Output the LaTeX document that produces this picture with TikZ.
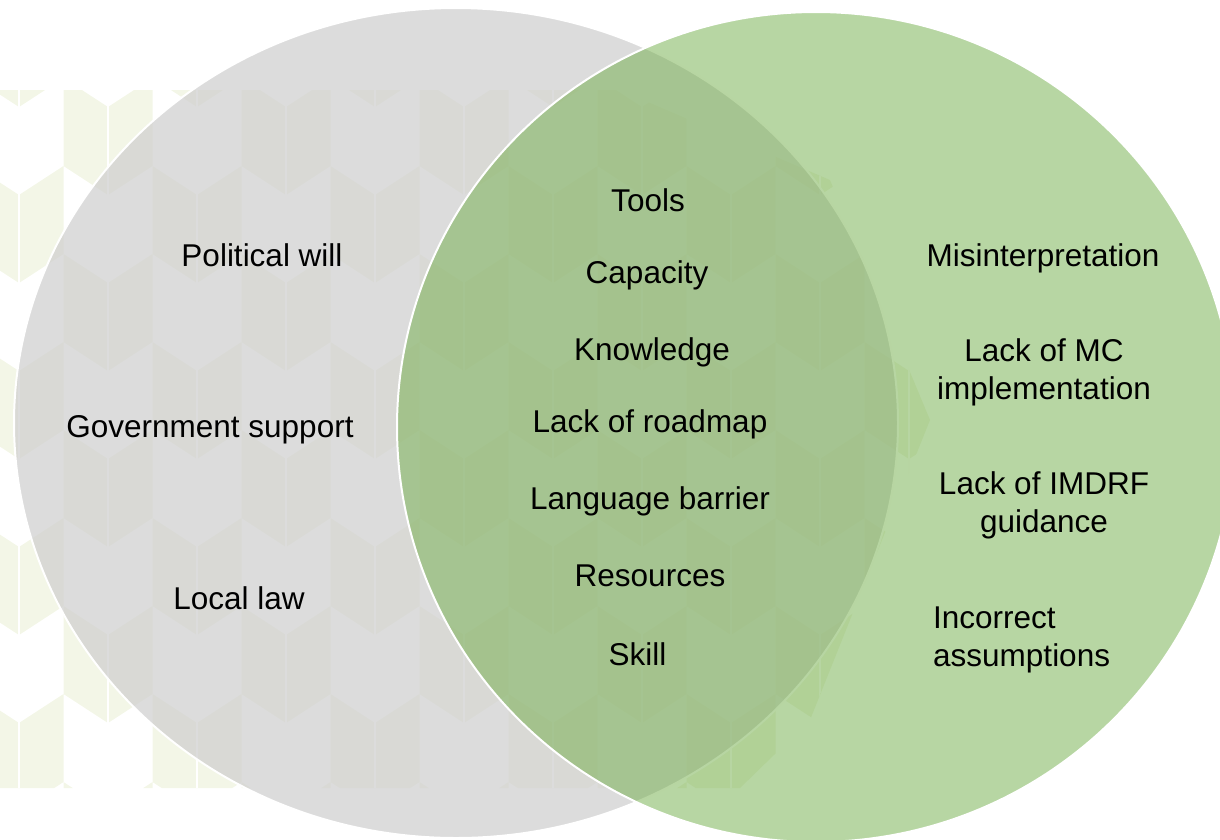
\documentclass[tikz,border=0pt]{standalone}
\usepackage{fontspec}
\setmainfont{Liberation Sans}
\usetikzlibrary{shapes.geometric}
\definecolor{grayc}{HTML}{CFCFCF}
\definecolor{greenc}{HTML}{70AD47}
\definecolor{creamc}{HTML}{F3F6E7}
\tikzset{
  lbl/.style={font=\fontsize{31.5}{38}\selectfont, inner sep=0pt, anchor=base, align=center, text=black},
  vennL/.style={ellipse, inner sep=0pt, minimum width=884pt, minimum height=830pt, fill=grayc, fill opacity=0.72, draw=white, line width=2pt},
  vennR/.style={ellipse, inner sep=0pt, minimum width=838pt, minimum height=830pt, fill=greenc, fill opacity=0.5, draw=white, line width=2pt}
}
\begin{document}
\begin{tikzpicture}[x=1pt,y=-1pt]
\useasboundingbox (0,0) rectangle (1220,839);
% background chevron pattern
\begin{scope}
  \clip (-30,90) -- (620,90) -- (830,180) -- (930,420) -- (810,720) -- (740,788) -- (-30,788) -- cycle;
  \foreach \k in {-1,...,10} {
    \foreach \r in {-1,...,8} {
      \pgfmathtruncatemacro\pp{mod(\k+\r+20,2)}
      \ifnum\pp=1
        \fill[creamc] ({19+89*\k-44.5},{78+88*\r}) -- ({19+89*\k},{107+88*\r}) -- ({19+89*\k+44.5},{78+88*\r})
          -- ({19+89*\k+44.5},{166+88*\r}) -- ({19+89*\k},{195+88*\r}) -- ({19+89*\k-44.5},{166+88*\r}) -- cycle;
      \fi
    }
    \draw[white, line width=1.5pt] ({19+89*\k},90) -- ({19+89*\k},788);
  }
\end{scope}
% circles
\node[vennL] (left) at (456,423) {};
\node[vennR] (right) at (816,427) {};
% left texts
\node[lbl] (pw) at (262,266) {Political will};
\node[lbl] (gs) at (210,437) {Government support};
\node[lbl] (ll) at (239,609) {Local law};
% middle texts
\node[lbl] (tools) at (648,211) {Tools};
\node[lbl] (cap) at (647,283) {Capacity};
\node[lbl] (know) at (652,360) {Knowledge};
\node[lbl] (road) at (650,432) {Lack of roadmap};
\node[lbl] (lang) at (650,509) {Language barrier};
\node[lbl] (res) at (650,586) {Resources};
\node[lbl] (skill) at (637.5,665) {Skill};
% right texts (base anchor = baseline of last line)
\node[lbl] (mis) at (1043,266) {Misinterpretation};
\node[lbl] (mc) at (1044,399) {Lack of MC\\implementation};
\node[lbl] (imdrf) at (1044,532) {Lack of IMDRF\\guidance};
\node[lbl, anchor=base west, align=left] (inc) at (933,666) {Incorrect\\assumptions};
\end{tikzpicture}
\end{document}
